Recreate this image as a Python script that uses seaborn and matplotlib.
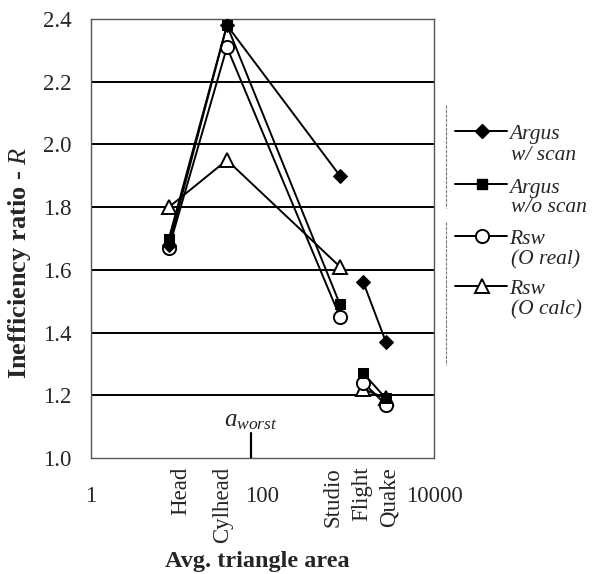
import numpy as np
import pandas as pd
import matplotlib
matplotlib.use("Agg")
import matplotlib.pyplot as plt
import seaborn as sns
from matplotlib.lines import Line2D
import matplotlib.transforms as mtransforms

# ---- data ----
datasets = ["Head", "Cylhead", "Studio", "Flight", "Quake"]
avg_area = [8.1, 38.5, 800, 1500, 2750]
segment = [0, 0, 0, 1, 1]  # lines are broken between Studio and Flight
argus_scan = [1.68, 2.38, 1.90, 1.56, 1.37]
argus_noscan = [1.70, 2.38, 1.49, 1.27, 1.19]
rsw_real = [1.67, 2.31, 1.45, 1.24, 1.17]
rsw_calc = [1.80, 1.95, 1.61, 1.22, 1.19]
legend_labels = ["Argus\nw/ scan", "Argus\nw/o scan", "Rsw\n(O real)", "Rsw\n(O calc)"]
a_worst = 73
x_ticks = [1, 100, 10000]
y_ticks = [1.0, 1.2, 1.4, 1.6, 1.8, 2.0, 2.2, 2.4]

sns.set_theme(style="white")
plt.rcParams['font.family'] = ['Liberation Serif', 'DejaVu Serif']
plt.rcParams['mathtext.fontset'] = 'custom'
plt.rcParams['mathtext.it'] = 'Liberation Serif:italic'
plt.rcParams['mathtext.rm'] = 'Liberation Serif'
plt.rcParams['mathtext.bf'] = 'Liberation Serif:bold'

W, H = 592, 574
fig = plt.figure(figsize=(W / 100, H / 100), dpi=100)
ax = fig.add_axes([91 / W, 1 - 458 / H, (434 - 91) / W, (458 - 19) / H])

vals = [argus_scan, argus_noscan, rsw_real, rsw_calc]
styles = [
    dict(marker="D", markersize=7, markerfacecolor="black", markeredgecolor="black"),
    dict(marker="s", markersize=7.5, markerfacecolor="black", markeredgecolor="black"),
    dict(marker="o", markersize=9.5, markerfacecolor="white", markeredgecolor="black", markeredgewidth=1.4),
    dict(marker="^", markersize=10.5, markerfacecolor="white", markeredgecolor="black", markeredgewidth=1.4),
]
rows = []
for name, v in zip(legend_labels, vals):
    for d, a, s, r in zip(datasets, avg_area, segment, v):
        rows.append(dict(series=name, dataset=d, area=a, seg=s, R=r))
df = pd.DataFrame(rows)

for i in [3, 2, 1, 0]:
    name = legend_labels[i]
    for sg in [0, 1]:
        sub = df[(df.series == name) & (df.seg == sg)]
        sns.lineplot(data=sub, x="area", y="R", ax=ax, color="black", linewidth=1.4,
                     estimator=None, sort=False, legend=False, zorder=3 + (3 - i), **styles[i])

ax.set_xscale("log")
ax.set_xlim(1, 10000)
ax.set_ylim(1.0, 2.4)

for y in y_ticks[1:-1]:
    ax.axhline(y, color="black", linewidth=1.4, zorder=1)
for sp in ax.spines.values():
    sp.set_color("#555555")
    sp.set_linewidth(1.0)
    sp.set_linestyle((0, (3, 1)))

ax.set_yticks(y_ticks)
ax.set_yticklabels([f"{y:.1f}" for y in y_ticks], fontsize=16.5)
ax.set_xticks(x_ticks)
ax.set_xticklabels([str(t) for t in x_ticks], fontsize=16.5)
ax.xaxis.set_minor_locator(matplotlib.ticker.NullLocator())
ax.tick_params(axis="x", length=0, pad=20)
ax.tick_params(axis="y", length=0, pad=14)

# dataset labels (rotated)
trans = mtransforms.blended_transform_factory(ax.transData, ax.transAxes)
label_dx = [1.38, 0.9, 0.83, 0.95, 1.08]
for d, a, f in zip(datasets, avg_area, label_dx):
    ax.text(a * f, -0.02, d, rotation=90, ha="center", va="top", fontsize=16.5, transform=trans)

# a_worst marker
ax.plot([a_worst, a_worst], [1.0, 1.08], color="black", linewidth=1.6, zorder=4)
ax.text(a_worst, 1.118, "$\\it{a}_{\\it{worst}}$", ha="center", va="center", fontsize=18)

ax.set_xlabel("Avg. triangle area", fontsize=17.5, fontweight="bold")
ax.set_ylabel("Inefficiency ratio - $\\mathbf{\\it{R}}$", fontsize=19, fontweight="bold")
ax.xaxis.set_label_coords(0.484, -0.211)
ax.yaxis.set_label_coords(-0.168, 0.445)

# legend drawn manually: handle aligned with the first text line
entry_y = [131, 184, 236, 286]
for st, lab, yy in zip(styles, legend_labels, entry_y):
    fy = 1 - yy / H
    fig.add_artist(Line2D([455 / W, 507 / W], [fy, fy], color="black", linewidth=1.4))
    fig.add_artist(Line2D([482 / W], [fy], color="black", linestyle="none", **st))
    first, second = lab.split("\n")
    fig.text(509 / W, 1 - (yy + 4) / H, first, fontsize=15.5, style="italic", va="center", ha="left")
    fig.text(511 / W, 1 - (yy + 24) / H, second, fontsize=15.5, style="italic", va="center", ha="left")

# faint vertical separators left of the legend
fig.add_artist(Line2D([446 / W, 446 / W], [1 - 105 / H, 1 - 208 / H], color="#777777", linewidth=0.8,
                      linestyle=(0, (3, 1))))
fig.add_artist(Line2D([446 / W, 446 / W], [1 - 222 / H, 1 - 365 / H], color="#777777", linewidth=0.8,
                      linestyle=(0, (3, 1))))

fig.savefig("out.png", dpi=100)
